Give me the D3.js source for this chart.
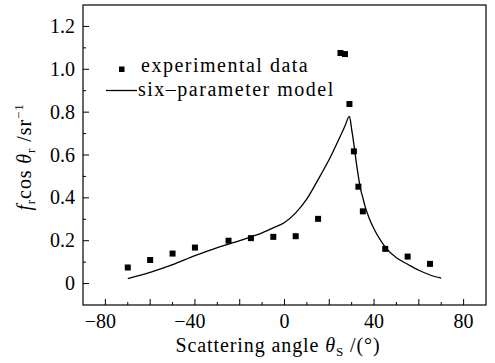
<!DOCTYPE html>
<html><head><meta charset="utf-8">
<script src="https://cdn.jsdelivr.net/npm/d3@7"></script>
<style>body{margin:0;background:#fff}svg{display:block}text{font-family:"Liberation Serif","Times New Roman",serif;fill:#000}</style>
</head><body><svg id="c" width="495" height="363"></svg>
<script>
// Data
const expAngles = [-70,-60,-50,-40,-25,-15,-5,5,15,25,27,29,31,33,35,45,55,65];
const expValues = [0.075,0.11,0.14,0.168,0.2,0.212,0.218,0.221,0.302,1.076,1.071,0.838,0.617,0.452,0.337,0.162,0.126,0.092];
const modelAngles = [-70,-60,-50,-40,-30,-20,-15,-10,-5,0,5,10,15,20,25,27,29,30,31,32,33,34,35,36,38,40,43,45,50,55,60,65,70];
const modelValues = [0.023,0.052,0.088,0.13,0.168,0.2,0.218,0.237,0.26,0.285,0.33,0.395,0.485,0.58,0.69,0.735,0.78,0.72,0.65,0.57,0.5,0.44,0.4,0.36,0.3,0.255,0.2,0.17,0.12,0.09,0.062,0.04,0.025];
const xTickLabels = [-80,-40,0,40,80];
const yTickLabels = [0,0.2,0.4,0.6,0.8,1.0,1.2];
const legendLabels = ["experimental data","six\u2013parameter model"];

const svg = d3.select("#c");
const L=83,T=5,R=486,B=305;
const x = d3.scaleLinear().domain([-90,90]).range([L,R]);
const y = d3.scaleLinear().domain([-0.1,1.3]).range([B,T]);

// frame
svg.append("rect").attr("x",L).attr("y",T).attr("width",R-L).attr("height",B-T)
  .attr("fill","none").attr("stroke","#000").attr("stroke-width",1.2);

// x axis ticks (inward)
const gx = svg.append("g");
d3.range(-80,81,10).forEach(v=>{
  const major = v%20===0;
  gx.append("line").attr("x1",x(v)).attr("x2",x(v)).attr("y1",B).attr("y2",B-(major?6:3))
    .attr("stroke","#000").attr("stroke-width",1);
});
xTickLabels.forEach(v=>{
  gx.append("text").attr("y",328).attr("font-size",20).attr("text-anchor","middle")
    .attr("x",x(v)+(v<0?-5:0)).text(v<0?"\u2212"+Math.abs(v):String(v));
});
// y axis ticks
const gy = svg.append("g");
d3.range(0,13).forEach(i=>{
  const v=i/10, major=i%2===0;
  gy.append("line").attr("x1",L).attr("x2",L+(major?6:3)).attr("y1",y(v)).attr("y2",y(v))
    .attr("stroke","#000").attr("stroke-width",1);
});
yTickLabels.forEach(v=>{
  gy.append("text").attr("x",75).attr("y",y(v)+6.5).attr("font-size",20).attr("text-anchor","end")
    .text(v===0?"0":v.toFixed(1));
});

// model line
const line = d3.line().x((d,i)=>x(modelAngles[i])).y((d,i)=>y(modelValues[i])).curve(d3.curveMonotoneX);
svg.append("path").datum(modelValues).attr("d",line).attr("fill","none").attr("stroke","#000").attr("stroke-width",1.3);

// points
const s=6;
svg.selectAll("rect.pt").data(expValues).enter().append("rect").attr("class","pt")
  .attr("x",(d,i)=>x(expAngles[i])-s/2).attr("y",d=>y(d)-s/2).attr("width",s).attr("height",s).attr("fill","#000");

// legend
svg.append("rect").attr("x",119).attr("y",66.5).attr("width",5.5).attr("height",5.5).attr("fill","#000");
svg.append("text").attr("x",141).attr("y",72).attr("font-size",20).attr("letter-spacing",1.5).text(legendLabels[0]);
svg.append("line").attr("x1",106).attr("x2",137).attr("y1",90.5).attr("y2",90.5).attr("stroke","#000").attr("stroke-width",1.3);
svg.append("text").attr("x",138).attr("y",96).attr("font-size",20).attr("letter-spacing",1.5).text(legendLabels[1]);

// x title
const xt = svg.append("text").attr("x",278).attr("y",352).attr("font-size",20).attr("letter-spacing",0.9).attr("text-anchor","middle");
xt.append("tspan").text("Scattering angle ");
xt.append("tspan").attr("font-style","italic").text("\u03B8");
xt.append("tspan").attr("font-size",13).attr("dy",4).text("S");
xt.append("tspan").attr("dy",-4).text(" /(\u00B0)");

// y title
const yt = svg.append("text").attr("transform","translate(31,157) rotate(-90)").attr("font-size",20).attr("letter-spacing",0.9).attr("text-anchor","middle");
yt.append("tspan").attr("font-style","italic").text("f");
yt.append("tspan").attr("font-size",13).attr("dy",4).text("r");
yt.append("tspan").attr("dy",-4).text("cos ");
yt.append("tspan").attr("font-style","italic").text("\u03B8");
yt.append("tspan").attr("font-size",13).attr("dy",4).text("r");
yt.append("tspan").attr("dy",-4).text(" /sr");
yt.append("tspan").attr("font-size",13).attr("dy",-8).text("\u22121");
</script></body></html>
